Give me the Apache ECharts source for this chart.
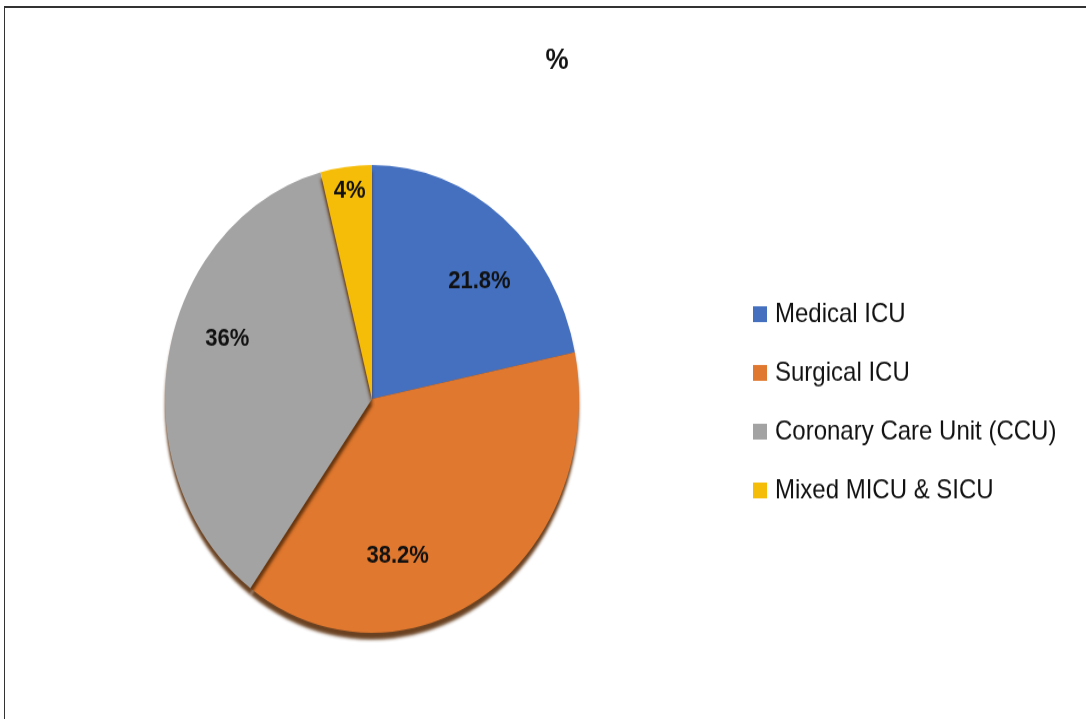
<!DOCTYPE html>
<html>
<head>
<meta charset="utf-8">
<script src="https://cdn.jsdelivr.net/npm/echarts@6/dist/echarts.min.js"></script>
<style>
  html, body { margin: 0; padding: 0; background: #fff; overflow: hidden; }
  #frame {
    position: absolute; left: 4px; top: 6px; width: 1100px; height: 720px;
    border-top: 2px solid #333; border-left: 1.5px solid #333;
  }
  #chart {
    position: absolute; left: 0; top: 0; width: 1086px; height: 636px;
    transform: scaleY(1.13); transform-origin: 0 0;
  }
</style>
</head>
<body>
<div id="frame"></div>
<div id="chart"></div>
<script>
const categories = ['Medical ICU', 'Surgical ICU', 'Coronary Care Unit (CCU)', 'Mixed MICU & SICU']
const values = [21.8, 38.2, 36, 4]
const labels = ['21.8%', '38.2%', '36%', '4%']
const colors = ['#4470bf', '#e0782f', '#a3a3a3', '#f5bc08']

// nudges so the labels sit where the original placed them
const labelOffsets = [[40, -22], [-32, 49], [-40, -33], [-9, -78]]

const chart = echarts.init(document.getElementById('chart'), null, { renderer: 'canvas' })
const font = '"Liberation Sans", Arial, sans-serif'

chart.setOption({
  animation: false,
  title: {
    text: '%',
    left: 552,
    top: 36,
    textAlign: 'center',
    textStyle: { fontFamily: font, fontSize: 26, fontWeight: 'bold', color: '#111' }
  },
  legend: {
    orient: 'vertical',
    left: 748,
    top: 261,
    itemWidth: 14,
    itemHeight: 14,
    itemGap: 28,
    icon: 'rect',
    data: categories,
    textStyle: { fontFamily: font, fontSize: 24, color: '#111', padding: [0, 0, 0, 3] }
  },
  series: [{
    type: 'pie',
    center: [372, 353],
    radius: 207,
    startAngle: 90,
    clockwise: true,
    silent: true,
    itemStyle: {
      borderWidth: 0,
      shadowBlur: 3,
      shadowOffsetY: 6,
      shadowColor: 'rgba(90,45,10,0.9)'
    },
    label: {
      show: true,
      position: 'inside',
      fontFamily: font,
      fontSize: 22,
      fontWeight: 'bold',
      color: '#111'
    },
    labelLine: { show: false },
    data: categories.map((name, i) => ({
      name,
      value: values[i],
      itemStyle: { color: colors[i] },
      label: { formatter: labels[i], offset: labelOffsets[i] }
    }))
  }]
})
</script>
</body>
</html>
